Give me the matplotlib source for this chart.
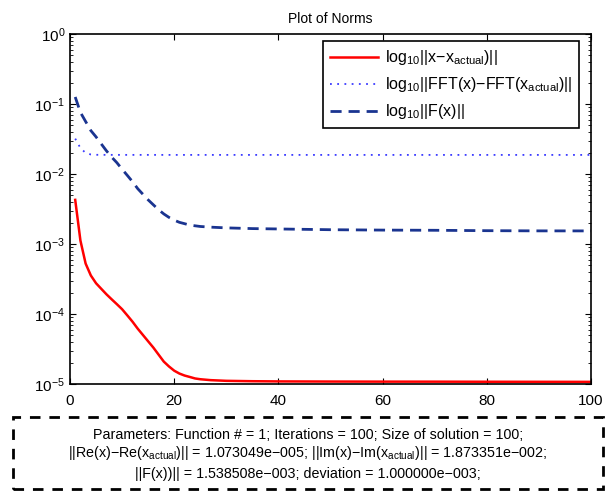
import numpy as np
import matplotlib.pyplot as plt
from matplotlib.patches import Rectangle
from matplotlib.ticker import LogLocator, NullFormatter

plt.rcParams['font.family'] = ['Liberation Sans', 'DejaVu Sans']
plt.rcParams['mathtext.fontset'] = 'custom'
plt.rcParams['mathtext.rm'] = 'Liberation Sans'
plt.rcParams['mathtext.it'] = 'Liberation Sans:italic'

it_x = [1, 2, 3, 4, 5, 6, 7, 8, 9, 10, 11, 12, 13, 14, 15, 16, 17, 18, 19, 20,
        21, 22, 23, 24, 25, 27, 30, 35, 40, 50, 60, 70, 80, 90, 100]

# ||x - x_actual||
err_x = [4.27e-3, 1.12e-3, 5.25e-4, 3.55e-4, 2.75e-4, 2.29e-4, 1.91e-4, 1.62e-4,
         1.38e-4, 1.17e-4, 9.55e-5, 7.76e-5, 6.17e-5, 5.01e-5, 4.07e-5, 3.31e-5,
         2.63e-5, 2.09e-5, 1.78e-5, 1.55e-5, 1.41e-5, 1.32e-5, 1.26e-5, 1.20e-5,
         1.17e-5, 1.135e-5, 1.11e-5, 1.096e-5, 1.089e-5, 1.084e-5, 1.081e-5,
         1.08e-5, 1.077e-5, 1.075e-5, 1.073e-5]

# ||FFT(x) - FFT(x_actual)||
err_fft = [0.032, 0.0235, 0.0200, 0.0190, 0.0188, 0.01878, 0.01877, 0.01876,
           0.01876, 0.01875, 0.01875, 0.01875, 0.01875, 0.01875, 0.01875, 0.01875,
           0.01875, 0.01874, 0.01874, 0.01874, 0.01874, 0.01874, 0.01874, 0.01874,
           0.01874, 0.01874, 0.01874, 0.01874, 0.01874, 0.01873, 0.01873, 0.01873,
           0.01873, 0.01873, 0.01873]

# ||F(x)||
err_F = [0.126, 0.0759, 0.0562, 0.0417, 0.0339, 0.0269, 0.0214, 0.0174, 0.0145,
         0.0117, 0.00955, 0.00776, 0.00617, 0.00513, 0.00427, 0.00363, 0.00309,
         0.00269, 0.0024, 0.00219, 0.00204, 0.00195, 0.00186, 0.00182, 0.00178,
         0.00174, 0.0017, 0.00166, 0.00164, 0.0016, 0.00158, 0.00157, 0.00155,
         0.00154, 0.001538]

labels = [r'log$_{10}$||x−x$_{\mathrm{actual}}$)||',
          r'log$_{10}$||FFT(x)−FFT(x$_{\mathrm{actual}}$)||',
          r'log$_{10}$||F(x)||']

info = ['Parameters: Function # = 1; Iterations = 100; Size of solution = 100;',
        r'||Re(x)−Re(x$_{\mathrm{actual}}$)|| = 1.073049e−005; ||Im(x)−Im(x$_{\mathrm{actual}}$)|| = 1.873351e−002;',
        '||F(x))|| = 1.538508e−003; deviation = 1.000000e−003;']

W, H = 605, 493
fig = plt.figure(figsize=(W / 100, H / 100), dpi=100)
ax = fig.add_axes([70 / W, 1 - 384 / H, 521 / W, 350 / H])

ax.semilogy(it_x, err_x, color='#ff0000', lw=1.8, label=labels[0])
ax.semilogy(it_x, err_fft, color='#3b3bff', lw=1.3, ls=(0, (1, 3)), label=labels[1])
ax.semilogy(it_x, err_F, color='#1a3490', lw=2.0, ls=(0, (4, 2.5)), label=labels[2])

ax.set_xlim(0, 100)
ax.set_ylim(1e-5, 1)
ax.set_xticks([0, 20, 40, 60, 80, 100])
ax.yaxis.set_major_locator(LogLocator(base=10, numticks=10))
ax.yaxis.set_minor_locator(LogLocator(base=10, subs=np.arange(2, 10), numticks=10))
ax.yaxis.set_minor_formatter(NullFormatter())
ax.tick_params(which='both', direction='in', top=True, right=True, labelsize=11)
ax.tick_params(which='major', length=4, width=0.8)
ax.tick_params(which='minor', length=2, width=0.6)
ax.tick_params(axis='x', pad=7)
for s in ax.spines.values():
    s.set_linewidth(1.2)
ax.set_title('Plot of Norms', fontsize=10, pad=8)

leg = ax.legend(loc='upper right', bbox_to_anchor=(509 / 521, 1 - 7 / 350),
                borderaxespad=0, fontsize=11.5, fancybox=False, framealpha=1,
                edgecolor='black', handlelength=3.0, labelspacing=0.5,
                handletextpad=0.4, borderpad=0.45)
leg.get_frame().set_linewidth(1.2)

fig.patches.append(Rectangle((13 / W, 1 - 489 / H), 590 / W, 72 / H,
                             transform=fig.transFigure, fill=False,
                             edgecolor='black', lw=2, ls=(0, (3.8, 3.2))))
for i, line in enumerate(info):
    fig.text(308 / W, 1 - [435, 453, 474][i] / H, line, ha='center',
             va='center', fontsize=10.3)

fig.savefig('out.png', dpi=100)
